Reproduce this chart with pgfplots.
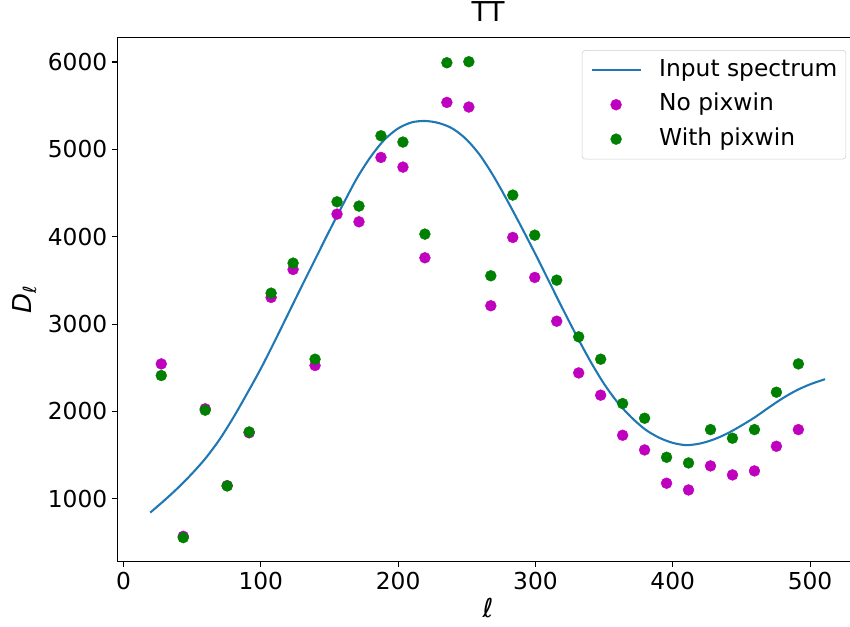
\documentclass[border=0pt]{standalone}
\usepackage{pgfplots}
\pgfplotsset{compat=1.18}
\usepackage{fontspec}
\setmainfont{DejaVu Sans}
\definecolor{c0}{HTML}{1F77B4}
\definecolor{mm}{rgb}{0.75,0,0.75}
\definecolor{gg}{rgb}{0,0.5,0}
\begin{document}
\begin{tikzpicture}
\useasboundingbox (-88pt,-48.2pt) rectangle (549.5pt,421.3pt);
\begin{axis}[
  at={(0pt,0pt)}, anchor=south west,
  scale only axis, width=556pt, height=393.3pt,
  xmin=-4.5, xmax=535.4, ymin=279, ymax=6283,
  axis line style={line width=0.83pt, black},
  tick align=outside, major tick length=3.65pt,
  tick style={line width=0.83pt, black},
  xtick pos=left, ytick pos=left,
  xtick={0,100,200,300,400,500},
  ytick={1000,2000,3000,4000,5000,6000},
  scaled ticks=false,
  /pgf/number format/assume math mode=true,
  /pgf/number format/1000 sep={},
  ticklabel style={font=\fontsize{17.5}{21}\selectfont},
  xticklabel style={inner sep=0pt, yshift=-3.7pt},
  yticklabel style={inner sep=0pt, xshift=-3.7pt},
  title={TT},
  title style={font=\fontsize{20.5}{24}\selectfont, at={(axis description cs:0.5,1)}, anchor=base, yshift=6.25pt},
  xlabel={\textit{ℓ}},
  ylabel={\textit{D}\textsubscript{\textit{ℓ}}},
  label style={font=\fontsize{19.5}{24}\selectfont},
  xlabel style={at={(axis description cs:0.5,0)}, anchor=base, yshift=-41.5pt},
  ylabel style={at={(axis description cs:0,0.5)}, anchor=base, yshift=64pt},
  legend cell align=left,
  legend style={at={(rel axis cs:1,1)}, anchor=north east, xshift=-9.4pt, yshift=-9.5pt,
    draw=black!20, rounded corners=2.5pt, fill=white,
    font=\fontsize{17.5}{21}\selectfont,
    inner xsep=6.3pt, inner ysep=6.6pt, row sep=8.9pt, column sep=13.2pt,
    nodes={inner sep=0pt, text height=12.9pt, text depth=4pt}},
  legend image code/.code={\draw[mark repeat=2,mark phase=2,#1] plot coordinates {(0pt,0pt)(18.4pt,0pt)(36.75pt,0pt)};},
]
\addplot[c0, line width=1.56pt, smooth] coordinates {
(19.5,842) (30,985) (40,1130) (50,1290) (60,1468) (70,1680) (80,1930) (90,2205) (100,2490)
(110,2800) (120,3120) (130,3440) (140,3755) (150,4070) (160,4375) (170,4670) (180,4915)
(190,5110) (200,5240) (210,5310) (220,5325) (230,5300) (240,5235) (250,5110) (260,4925)
(270,4680) (280,4400) (290,4105) (300,3800) (310,3485) (320,3170) (330,2865) (340,2575)
(350,2315) (360,2100) (370,1930) (380,1793) (390,1700) (400,1640) (410,1614)
(420,1633) (430,1680) (440,1750) (450,1838) (460,1935) (470,2045) (480,2150) (490,2240)
(500,2310) (510.9,2369)
};
\addlegendentry{Input spectrum}
\addplot[mm, only marks, mark=*, mark size=4.1pt, mark options={line width=0.3pt}] coordinates {
(27.5,2544) (43.5,570) (59.5,2030) (75.5,1150) (91.5,1755) (107.5,3305) (123.5,3625)
(139.5,2526) (155.5,4259) (171.5,4171) (187.5,4908) (203.5,4797) (219.5,3759)
(235.5,5538) (251.5,5485) (267.5,3210) (283.5,3992) (299.5,3534) (315.5,3033)
(331.5,2441) (347.5,2186) (363.5,1727) (379.5,1559) (395.5,1178) (411.5,1101)
(427.5,1376) (443.5,1273) (459.5,1319) (475.5,1601) (491.5,1792)
};
\addlegendentry{No pixwin}
\addplot[gg, only marks, mark=*, mark size=4.1pt, mark options={line width=0.3pt}] coordinates {
(27.5,2411) (43.5,555) (59.5,2014) (75.5,1147) (91.5,1765) (107.5,3354) (123.5,3698)
(139.5,2598) (155.5,4400) (171.5,4351) (187.5,5156) (203.5,5084) (219.5,4030)
(235.5,5992) (251.5,6004) (267.5,3553) (283.5,4477) (299.5,4018) (315.5,3503)
(331.5,2854) (347.5,2598) (363.5,2090) (379.5,1922) (395.5,1475) (411.5,1410)
(427.5,1792) (443.5,1693) (459.5,1792) (475.5,2220) (491.5,2544)
};
\addlegendentry{With pixwin}
\end{axis}
\end{tikzpicture}
\end{document}
